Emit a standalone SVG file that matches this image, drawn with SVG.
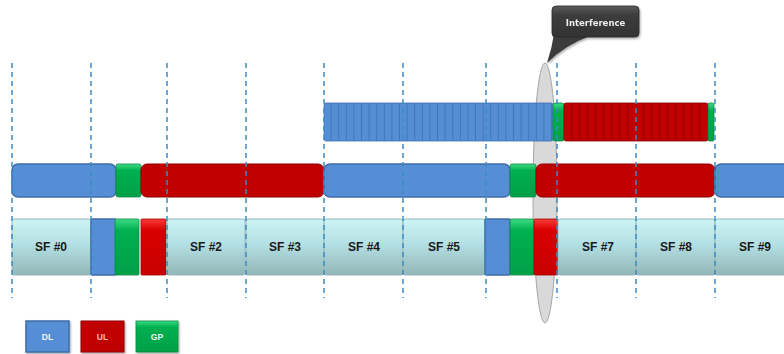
<svg xmlns="http://www.w3.org/2000/svg" width="784" height="354" viewBox="0 0 784 354">
<style>
.grid{stroke:#3d8cc4;stroke-width:1.5;stroke-dasharray:5 4;fill:none}
.blue{fill:#558ed5;stroke:#3e6ea8;stroke-width:1.5}
.red{fill:#c00000;stroke:#8f0000;stroke-width:1}
.green{fill:url(#gG);stroke:#0a8a40;stroke-width:0.8}
.redS{fill:url(#gR);stroke:#a00000;stroke-width:0.8}
.sf{fill:url(#gSF);stroke:#93b7b9;stroke-width:1}
.sft{font-family:"Liberation Sans",Arial,sans-serif;font-weight:bold;font-size:12px;fill:#1a1a1a;text-anchor:middle}
.leg{font-family:"Liberation Sans",Arial,sans-serif;font-weight:bold;font-size:8.5px;fill:#f2f2f2;text-anchor:middle}
.legUL{fill:#f4b6b6}
</style>
<defs>
<linearGradient id="gG" x1="0" y1="0" x2="0" y2="1"><stop offset="0" stop-color="#3ddc84"/><stop offset="0.2" stop-color="#00b050"/><stop offset="1" stop-color="#00a048"/></linearGradient>
<linearGradient id="gR" x1="0" y1="0" x2="0" y2="1"><stop offset="0" stop-color="#ff3a3a"/><stop offset="0.2" stop-color="#d80000"/><stop offset="1" stop-color="#c80000"/></linearGradient>
<linearGradient id="gSF" x1="0" y1="0" x2="0" y2="1"><stop offset="0" stop-color="#cdf3f5"/><stop offset="0.45" stop-color="#b3e0e3"/><stop offset="1" stop-color="#93b6b8"/></linearGradient>
<linearGradient id="gC" x1="0" y1="0" x2="0" y2="1"><stop offset="0" stop-color="#5a5a5a"/><stop offset="0.3" stop-color="#3c3c3c"/><stop offset="1" stop-color="#333"/></linearGradient>
<pattern id="pB" patternUnits="userSpaceOnUse" x="324" y="103" width="7.6" height="38"><rect x="0" y="0" width="7.6" height="38" fill="#558ed5"/><rect x="6.8" y="0" width="0.8" height="38" fill="#3f6fae"/></pattern>
<pattern id="pR" patternUnits="userSpaceOnUse" x="564" y="103" width="8" height="38"><rect x="0" y="0" width="8" height="38" fill="#c00000"/><rect x="7.2" y="0" width="0.8" height="38" fill="#8a0000"/></pattern>
<filter id="sh" x="-10%" y="-10%" width="130%" height="140%"><feDropShadow dx="1" dy="1.5" stdDeviation="1" flood-color="#000" flood-opacity="0.35"/></filter>
</defs>
<rect width="784" height="354" fill="#fff"/>

<g id="interference-zone"><ellipse cx="545" cy="193" rx="12" ry="130" fill="#d9d9d9" stroke="#a6a6a6" stroke-width="1"/></g>

<g id="row-top">
<rect x="324" y="103" width="229" height="38" rx="2" fill="url(#pB)" stroke="#3f6fae" stroke-width="0.8"/>
<rect x="553" y="103" width="11" height="38" rx="2" class="green"/>
<rect x="564" y="103" width="144" height="38" rx="2" fill="url(#pR)" stroke="#8a0000" stroke-width="0.8"/>
<rect x="708" y="103" width="6" height="38" rx="1.5" class="green"/>
</g>

<g id="row-mid">
<rect x="12" y="164" width="104" height="33" rx="6" class="blue"/>
<rect x="116" y="164" width="25" height="33" rx="2" class="green"/>
<rect x="141" y="164" width="183" height="33" rx="6" class="red"/>
<rect x="324" y="164" width="186" height="33" rx="6" class="blue"/>
<rect x="510" y="164" width="26" height="33" rx="2" class="green"/>
<rect x="536" y="164" width="179" height="33" rx="6" class="red"/>
<rect x="715" y="164" width="80" height="33" rx="6" class="blue"/>
</g>

<g id="row-sf">
<g id="sf0"><rect x="12" y="219" width="79" height="56" rx="2" class="sf"/><text x="51" y="251" class="sft">SF #0</text></g>
<g id="sf1"><rect x="91" y="219" width="25" height="56" rx="1" class="blue"/><rect x="115" y="219" width="24" height="56" rx="1" class="green"/><rect x="141" y="219" width="25" height="56" rx="1" class="redS"/></g>
<g id="sf2"><rect x="167" y="219" width="78" height="56" rx="2" class="sf"/><text x="206" y="251" class="sft">SF #2</text></g>
<g id="sf3"><rect x="246" y="219" width="78" height="56" rx="2" class="sf"/><text x="285" y="251" class="sft">SF #3</text></g>
<g id="sf4"><rect x="324" y="219" width="79" height="56" rx="2" class="sf"/><text x="364" y="251" class="sft">SF #4</text></g>
<g id="sf5"><rect x="403" y="219" width="82" height="56" rx="2" class="sf"/><text x="444" y="251" class="sft">SF #5</text></g>
<g id="sf6"><rect x="485" y="219" width="25" height="56" rx="1" class="blue"/><rect x="510" y="219" width="24" height="56" rx="1" class="green"/><rect x="534" y="219" width="24" height="56" rx="1" class="redS"/></g>
<g id="sf7"><rect x="558" y="219" width="78" height="56" rx="2" class="sf"/><text x="598" y="251" class="sft">SF #7</text></g>
<g id="sf8"><rect x="636" y="219" width="79" height="56" rx="2" class="sf"/><text x="676" y="251" class="sft">SF #8</text></g>
<g id="sf9"><rect x="715" y="219" width="80" height="56" rx="2" class="sf"/><text x="755" y="251" class="sft">SF #9</text></g>
</g>

<g id="connectors">
<line class="grid" x1="12" y1="63" x2="12" y2="298"/>
<line class="grid" x1="91" y1="63" x2="91" y2="298"/>
<line class="grid" x1="167" y1="63" x2="167" y2="298"/>
<line class="grid" x1="246" y1="63" x2="246" y2="298"/>
<line class="grid" x1="324" y1="63" x2="324" y2="298"/>
<line class="grid" x1="403" y1="63" x2="403" y2="298"/>
<line class="grid" x1="486" y1="63" x2="486" y2="298"/>
<line class="grid" x1="557" y1="63" x2="557" y2="298"/>
<line class="grid" x1="636" y1="63" x2="636" y2="298"/>
<line class="grid" x1="715" y1="63" x2="715" y2="298"/>
</g>

<g id="callout" filter="url(#sh)">
<path d="M554,34 L590,36 Q565,45 547,63 Q552,48 554,34 Z" fill="#3a3a3a"/>
<rect x="552" y="6" width="87" height="31" rx="4" fill="url(#gC)" stroke="#2a2a2a" stroke-width="0.8"/>
<text x="595.5" y="25.5" font-family="DejaVu Sans,Verdana,sans-serif" font-weight="bold" font-size="8.5" fill="#eeeeee" text-anchor="middle">Interference</text>
</g>

<g id="legend">
<g id="leg-dl"><rect x="26" y="321" width="43" height="31" class="blue" filter="url(#sh)"/><text x="47.5" y="340" class="leg">DL</text></g>
<g id="leg-ul"><rect x="81" y="321" width="43" height="31" class="red" filter="url(#sh)"/><text x="102.5" y="340" class="leg legUL">UL</text></g>
<g id="leg-gp"><rect x="136" y="321" width="42" height="31" class="green" filter="url(#sh)"/><text x="157" y="340" class="leg">GP</text></g>
</g>
</svg>
